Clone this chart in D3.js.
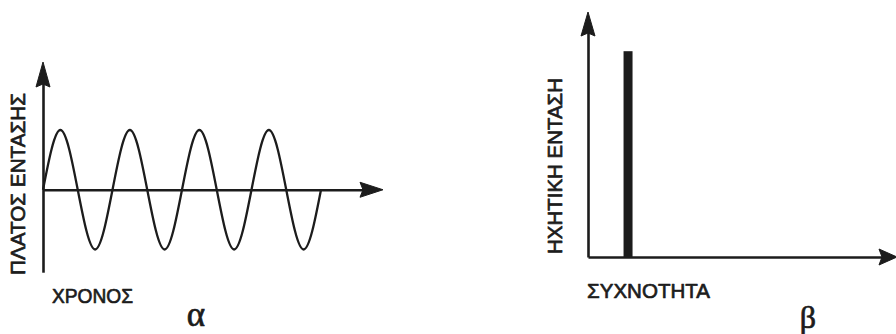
<!DOCTYPE html>
<html>
<head>
<meta charset="utf-8">
<script src="https://cdn.jsdelivr.net/npm/d3@7"></script>
<style>
  html, body { margin: 0; padding: 0; background: #ffffff; }
  svg { display: block; }
  .lbl { font-family: "Liberation Sans", Arial, sans-serif; fill: #1c1c1c; stroke: #1c1c1c; stroke-width: 0.7; stroke-linejoin: round; }
  .cap { font-family: "Liberation Serif", "DejaVu Serif", serif; fill: #1c1c1c; stroke: #1c1c1c; stroke-width: 0.7; }
</style>
</head>
<body>
<script>
// ---- Data ----
// Panel α: waveform key points at quarter-period steps (time in quarter periods)
const timeSteps = [0, 1, 2, 3, 4, 5, 6, 7, 8, 9, 10, 11, 12, 13, 14, 15, 16];
const amplitude = [0, 1, 0, -1, 0, 1, 0, -1, 0, 1, 0, -1, 0, 1, 0, -1, 0];
// Panel β: single spectral line
const frequencies = [1.3];
const intensities = [0.84];
// Labels
const leftYLabel = "ΠΛΑΤΟΣ ΕΝΤΑΣΗΣ";
const leftXLabel = "ΧΡΟΝΟΣ";
const leftCaption = "α";
const rightYLabel = "ΗΧΗΤΙΚΗ ΕΝΤΑΣΗ";
const rightXLabel = "ΣΥΧΝΟΤΗΤΑ";
const rightCaption = "β";

const W = 896, H = 334;
const ink = "#1c1c1c";
const FS = 21;
const svg = d3.select("body").append("svg").attr("width", W).attr("height", H);

function arrowHead(g, tip, dir, len, half) {
  let pts;
  if (dir === "up") pts = [[tip[0], tip[1]], [tip[0] - half, tip[1] + len], [tip[0], tip[1] + len - 3], [tip[0] + half, tip[1] + len]];
  else pts = [[tip[0], tip[1]], [tip[0] - len, tip[1] - half], [tip[0] - len + 3, tip[1]], [tip[0] - len, tip[1] + half]];
  g.append("path").attr("d", d3.line()(pts) + "Z").attr("fill", ink).attr("stroke", ink).attr("stroke-width", 1).attr("stroke-linejoin", "round");
}

// ---------- Panel α ----------
{
  const x = d3.scaleLinear().domain([0, 16]).range([43, 321]);
  const y = d3.scaleLinear().domain([-1, 1]).range([249.5, 130]);
  const g = svg.append("g");

  const yAx = g.append("g").attr("transform", `translate(${x(0)},0)`).call(
    d3.axisLeft(d3.scaleLinear().domain([-1.38, 2.0]).range([y(-1.38), y(2.0)])).tickValues([]).tickSizeOuter(0)
  );
  yAx.select(".domain").attr("stroke", ink).attr("stroke-width", 2.6);
  arrowHead(g, [x(0), 62], "up", 25, 7);

  const xAxisScale = d3.scaleLinear().domain([0, 20]).range([x(0), 372]);
  const xAx = g.append("g").attr("transform", `translate(0,${y(0)})`).call(
    d3.axisBottom(xAxisScale).tickValues([]).tickSizeOuter(0)
  );
  xAx.select(".domain").attr("stroke", ink).attr("stroke-width", 2.6);
  arrowHead(g, [383, y(0)], "right", 23, 7.5);

  const pts = timeSteps.map((t, i) => [x(t), y(amplitude[i])]);
  g.append("path")
    .attr("d", d3.line().curve(d3.curveNatural)(pts))
    .attr("fill", "none").attr("stroke", ink).attr("stroke-width", 2.3);

  g.append("text").attr("class", "lbl")
    .attr("transform", `translate(25,${184}) rotate(-90)`)
    .attr("x", -91).attr("textLength", 182).attr("lengthAdjust", "spacingAndGlyphs")
    .attr("font-size", FS).text(leftYLabel);
  g.append("text").attr("class", "lbl")
    .attr("x", 52).attr("y", 303).attr("textLength", 81).attr("lengthAdjust", "spacingAndGlyphs")
    .attr("font-size", FS).text(leftXLabel);
  g.append("text").attr("class", "cap")
    .attr("x", 196).attr("y", 326).attr("text-anchor", "middle").attr("font-size", 35).text(leftCaption);
}

// ---------- Panel β ----------
{
  const x = d3.scaleLinear().domain([0, 10]).range([588, 896]);
  const y = d3.scaleLinear().domain([0, 1]).range([257, 12]);
  const g = svg.append("g");

  const yAx = g.append("g").attr("transform", `translate(${x(0)},0)`).call(
    d3.axisLeft(d3.scaleLinear().domain([0, 0.92]).range([y(0), y(0.92)])).tickValues([]).tickSizeOuter(0)
  );
  yAx.select(".domain").attr("stroke", ink).attr("stroke-width", 2.6);
  arrowHead(g, [x(0), y(1)], "up", 24, 7);

  const xAx = g.append("g").attr("transform", `translate(0,${y(0)})`).call(
    d3.axisBottom(d3.scaleLinear().domain([0, 9.6]).range([x(0), x(9.6)])).tickValues([]).tickSizeOuter(0)
  );
  xAx.select(".domain").attr("stroke", ink).attr("stroke-width", 2.6);
  arrowHead(g, [x(10) + 1, y(0)], "right", 18, 8);

  g.selectAll("rect.bar").data(frequencies).enter().append("rect")
    .attr("class", "bar")
    .attr("x", d => x(d) - 4.5)
    .attr("width", 9)
    .attr("y", (d, i) => y(intensities[i]))
    .attr("height", (d, i) => y(0) - y(intensities[i]))
    .attr("fill", ink);

  g.append("text").attr("class", "lbl")
    .attr("transform", `translate(562,${166}) rotate(-90)`)
    .attr("x", -88).attr("textLength", 176).attr("lengthAdjust", "spacingAndGlyphs")
    .attr("font-size", FS).text(rightYLabel);
  g.append("text").attr("class", "lbl")
    .attr("x", 587).attr("y", 298).attr("textLength", 123).attr("lengthAdjust", "spacingAndGlyphs")
    .attr("font-size", FS).text(rightXLabel);
  g.append("text").attr("class", "cap")
    .attr("x", 808).attr("y", 328).attr("text-anchor", "middle").attr("font-size", 32).text(rightCaption);
}
</script>
</body>
</html>
